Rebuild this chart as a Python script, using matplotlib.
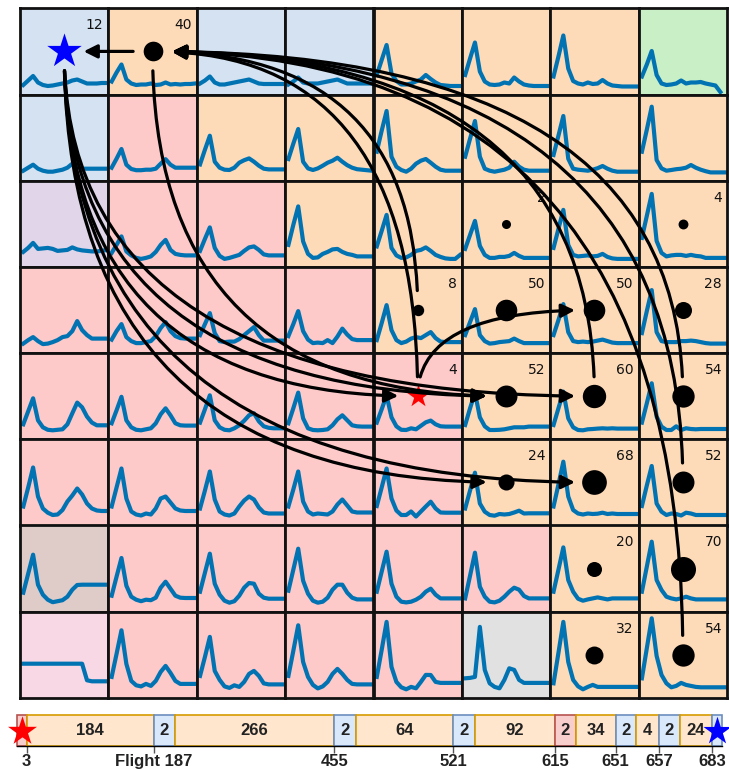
import numpy as np
import matplotlib
matplotlib.use("Agg")
import matplotlib.pyplot as plt

nan = np.nan

# cluster of every cell, top row first (B blue, O orange, R red, G green,
# P purple, N brown, K pink, Y gray)
cell_clusters = [
    "BOBBOOOG",
    "BROOOOOO",
    "PRROOOOO",
    "RRRROOOO",
    "RRRRROOO",
    "RRRRROOO",
    "NRRRRROO",
    "KRRRRYOO",
]

# mean profile of each cell (18 samples), one list per grid row
row0_traces = [
    [9.5, 14, 18.5, 12, 9.5, 8.5, 9, 10, 11, 12, 14, 15, 13, 11, 11, 11, 11.5, 11.5],
    [13, 22, 30, 15, 11, 9.5, 10, 10, 11, 9.5, 10, 12, 10, 10.5, 10, 10.5, 10.5, 11],
    [11, 14, 18, 12, 10, 10, 11, 12, 13, 14, 15, 13, 11, 10.5, 10.5, 10.5, 10.5, 10.5],
    [10, 13, 17, 12, 11, 11, 11, 12, 13, 14, 15, 13, 11, 11, 11, 11, 11, 11],
    [19.5, 34.5, 49.5, 21, 13.5, 10, 10, 11, 13, 15, 19.5, 15.5, 12, 9.5, 9, 8.5, 8.5, 8.5],
    [19.5, 36, 52, 23, 13, 10, 9.5, 10, 12, 11, 17, 13, 10, 9, 8.5, 8.5, 8.5, 8.5],
    [18, 38, 59, 26, 13.5, 11, 10, 12, 10.5, 11, 14.5, 11, 9, 8.5, 8, 8, 8, 8],
    [18, 30, 43.5, 19.5, 11, 9.5, 10, 11, 14, 11, 12, 12, 12.5, 11, 10, 9, 2.5, nan],
]
row1_traces = [
    [10, 13, 16, 12, 10, 9, 9, 10, 11, 13, 17, 14, 12, 12, 12, 12, 12, 12],
    [13, 22, 31.7, 16, 11.7, 10.5, 10.5, 11, 11, 12, 17, 21.5, 16, 13, 13, 13, 13, 13],
    [16.3, 31, 45, 19, 13, 11, 10.7, 13, 18, 20.5, 22.3, 19, 15, 12, 11.3, 11.3, 11.3, 11.3],
    [21.7, 37, 51.7, 19, 12.3, 10.7, 12.3, 15, 18, 20, 23, 19, 15.5, 13, 11.5, 11, 10.5, 10],
    [29, 50, 69.7, 24, 14, 10.7, 9, 12, 17, 20, 21.7, 18, 14, 11, 10, 10, 10, 10],
    [24, 42, 59.7, 24, 12, 10, 9, 10, 11, 13, 19, 14, 11, 10, 10, 10, 10, 10],
    [25.7, 45, 64.7, 22, 12, 11, 10.5, 10, 11, 12.5, 14.7, 12, 10, 9, 9, 9, 9, 9],
    [29, 51, 74, 20.7, 12.3, 10, 10.7, 11.5, 12, 13, 15.7, 13, 11, 9.5, 8.3, 8.3, 8.3, 8.3],
]
row2_traces = [
    [15, 19, 24, 18, 18.5, 19, 18, 16, 16.5, 17, 19.5, 17.5, 16.5, 16, 15.5, 15.5, 16, 17],
    [14, 22, 30.5, 15.5, 11.5, 9, 8, 9, 10.5, 15, 22, 27, 17, 13, 12, 11.5, 11.5, 11.5],
    [16, 28, 39.5, 19, 11, 8, 9, 10.5, 12, 16, 19.5, 20.5, 17, 12.5, 11.5, 11.5, 11.5, 11.5],
    [22, 42, 60.5, 25.5, 13, 9, 9.5, 13, 15, 17.5, 18, 15, 13, 12, 10.5, 10.5, 10.5, 10.5],
    [20.5, 36, 52, 19, 11.5, 9, 9.5, 12, 16, 17, 19.5, 16, 12, 10, 8.5, 8, 8, 12],
    [18, 32, 46, 21, 12, 9, 9, 10, 10, 11, 14, 11, 9, 9, 9, 9, 9, 9],
    [19, 38, 57, 22, 12, 10.5, 11, 11.5, 10.5, 11, 13, 10, 8.5, 8, 8, 8, 8, 8],
    [29, 51, 73, 26, 14, 10.5, 11.5, 12, 12, 11, 12, 11, 10.5, 9, 9, 9, 9, 9],
]
row3_traces = [
    [9.5, 13, 16, 12, 9, 9.5, 11, 13, 16, 17, 22, 32, 23, 18, 14.5, 14.5, 14.5, 14.5],
    [13.5, 22, 29, 16, 12, 10, 10, 11, 12, 17, 25, 31, 22, 17, 15, 14.5, 14.5, 14.5],
    [18, 29, 40, 20, 12, 11, 11.5, 11.5, 14, 18, 22, 26, 18, 12.5, 12.5, 12.5, 12.5, 12.5],
    [17, 29, 42, 22, 13.5, 10, 10.5, 10, 13, 10, 16.5, 24.5, 18.5, 14, 13, 13, 13, 13],
    [13, 30, 48, 23, 13, 10, 11.5, 14.5, 16, 15, 18, 21, 15, 11.5, 11, 11, 11, 11],
    [18, 31, 44, 18, 12, 9.5, 10, 11, 11.5, 12, 14.5, 12, 10, 10, 10, 10, 10, 10],
    [18, 33, 49, 21, 12, 11, 11.5, 11, 11.5, 12.5, 13.5, 12, 10.5, 10, 10, 10, 10, 10],
    [20, 42, 63, 21, 12, 11, 11, 11, 12, 12, 12.5, 12, 11, 10, 9.5, 9.5, 9.5, 9.5],
]
row4_traces = [
    [15, 28, 41, 19, 12, 9.5, 9, 9.5, 10, 15, 26, 36.7, 32, 22.7, 16.7, 14, 14, 14],
    [16, 29, 42.5, 19, 12, 9.5, 9, 10, 11, 16, 25, 31, 24, 16, 14, 13.7, 13.7, 13.7],
    [16.7, 30, 44, 19, 12, 9.5, 9, 11, 14, 18.5, 24, 26, 18, 13, 11.5, 11, 11, 11],
    [16, 31, 46.7, 21, 11, 9.3, 9, 9.3, 10, 14, 20, 24, 19, 14, 13, 12.7, 12.7, 12.7],
    [16.7, 30, 44, 22, 13, 9.5, 9.3, 11, 10, 13.5, 17, 18.7, 15, 13, 12.7, 12.7, 12.7, 12.7],
    [14.3, 31, 46.7, 22, 13, 9.3, 9.3, 9.5, 10, 11, 12, 12, 12, 12.7, 12.7, 12.7, 12.7, 12.7],
    [14.3, 31, 47.7, 21, 12, 9.3, 9, 10, 10.3, 10.7, 11, 10.7, 11, 10.7, 10.7, 10.7, 10.7, 10.7],
    [16.7, 36, 56, 22.7, 12.7, 9.3, 9.3, 13, 9.3, 11, 10.3, 10, 10.3, 10.3, 10.3, 10.3, 10.3, 10.3],
]
row5_traces = [
    [19, 38, 58, 29, 17, 12.8, 10.5, 11, 15.5, 24, 30, 37, 31, 22, 17, 15, 14.5, 14.5],
    [19, 38, 57, 27, 14, 11, 10, 12, 11, 17, 27, 29, 23, 17, 15, 14.5, 14.5, 14.5],
    [17, 35, 54, 26, 14, 11, 10, 12, 19, 25, 29, 26, 18, 13, 12, 12, 12, 12],
    [19, 36, 54, 24, 14, 11, 12, 11.5, 11, 14, 21, 26, 20, 14, 13, 13, 13, 13],
    [19.5, 38, 57, 27, 15, 10.5, 10.5, 14, 9, 14, 19, 23.8, 17, 13, 12.8, 12.8, 12.8, 12.8],
    [17, 35, 52.8, 22, 13.8, 10.5, 9.8, 11.5, 11, 11.5, 13, 14.8, 12, 12.2, 12.2, 12.2, 12.2, 12.2],
    [19, 41, 63.8, 29, 15.5, 12, 11, 12, 11.5, 11.8, 12.8, 11.5, 12, 11.5, 11.5, 11.5, 11.5, 11.5],
    [19.5, 40, 59.5, 22, 13.8, 10.5, 12, 11.5, 10, 12.8, 12, 10.5, 10.5, 10.5, 10.5, 10.5, 10.5, 10.5],
]
row6_traces = [
    [19, 38, 57, 27, 17, 12, 9.5, 10.5, 11.5, 15, 22, 26.7, 27, 27, 27, 27, 27, 27],
    [16, 35, 53.7, 26, 15, 12, 10.5, 12, 11.5, 14, 24, 30, 23, 16, 14, 13.7, 13.7, 13.7],
    [20, 39, 58, 28, 17, 11, 9, 10.5, 16, 24, 28.7, 28, 18, 14, 13, 13, 13, 13],
    [21, 42, 63, 31, 18, 11, 9, 10, 14, 22, 27, 27, 19, 14, 12.3, 12.3, 12.3, 12.3],
    [20, 40, 60, 28, 15, 10, 9.3, 10, 12, 15, 20, 23, 17, 13.3, 13.3, 13.3, 13.3, 13.3],
    [13.3, 36, 59, 25, 15, 10, 9.3, 11, 15, 20, 24, 22, 15.7, 13.3, 13.3, 13.3, 13.3, 13.3],
    [20, 42, 64.3, 31.7, 20, 13, 11, 12.3, 13.3, 14.3, 13.3, 12.3, 13.3, 13.3, 13.3, 13.3, 13.3, 13.3],
    [20, 45, 70, 31.7, 21.7, 15, 13.3, 12.3, 13.3, 15, 13.3, 12.3, 12.3, 12.3, 12.3, 12.3, 12.3, 12.3],
]
row7_traces = [
    [34.2, 34.2, 34.2, 34.2, 34.2, 34.2, 34.2, 34.2, 34.2, 34.2, 34.2, 34.2, 34.2, 17.6, 16.6, 16.6, 16.6, 16.6],
    [21, 44, 67.6, 34, 17, 12.6, 11.5, 14, 12, 17, 26, 32, 25, 17, 14, 14, 14, 14],
    [22, 41, 61, 27, 18, 11.5, 10, 12.6, 11, 16, 24, 27, 22, 14.5, 13.5, 13.5, 13.5, 13.5],
    [22, 47, 72.6, 36, 21, 13, 9.5, 11.5, 16, 24, 29, 24, 18, 14, 13.5, 13.5, 13.5, 13.5],
    [21, 48, 76, 31, 16, 10.6, 8.6, 11, 9.6, 16, 23, 22.9, 16, 15, 15, 15, 15, 15],
    [19.6, 20, 21, 71, 28, 14.6, 11, 9.6, 18, 29.6, 28, 18, 15, 15, 15, 15, 15, 15],
    [14.6, 45, 76, 36, 18, 11.6, 8.6, 11, 13, 11, 11, 11, 11, 11, 11, 11, 11, 11],
    [19.6, 49.6, 79.6, 42, 23, 14.6, 10.6, 12, 15, 13, 12, 11, 10.6, 10.6, 10.6, 10.6, 10.6, 10.6],
]
traces = [row0_traces, row1_traces, row2_traces, row3_traces,
          row4_traces, row5_traces, row6_traces, row7_traces]

# visit counts per (row, col)
cell_counts = {
    (0, 0): 12, (0, 1): 40, (2, 5): 2, (2, 7): 4,
    (3, 4): 8, (3, 5): 50, (3, 6): 50, (3, 7): 28,
    (4, 4): 4, (4, 5): 52, (4, 6): 60, (4, 7): 54,
    (5, 5): 24, (5, 6): 68, (5, 7): 52,
    (6, 6): 20, (6, 7): 70, (7, 6): 32, (7, 7): 54,
}
start_cell = (4, 4)
end_cell = (0, 0)

# transitions (source -> target)
transitions = [
    ((0, 1), (0, 0)),
    ((0, 0), (4, 4)), ((0, 0), (4, 5)), ((0, 0), (4, 6)),
    ((0, 0), (5, 5)), ((0, 0), (5, 6)),
    ((0, 1), (4, 5)),
    ((4, 4), (3, 6)),
    ((3, 4), (0, 1)), ((4, 4), (0, 1)), ((4, 6), (0, 1)),
    ((4, 7), (0, 1)), ((5, 7), (0, 1)), ((7, 7), (0, 1)),
]

# flight timeline segments
seg_counts = [3, 184, 2, 266, 2, 64, 2, 92, 2, 34, 2, 4, 2, 24, 1]
seg_kinds = ["R", "O", "B", "O", "B", "O", "B", "O", "R", "O", "B", "O", "B", "O", "B"]
tick_values = [3, 187, 455, 521, 615, 651, 657, 683]
tick_labels = ["3", "Flight 187", "455", "521", "615", "651", "657", "683"]

# ---- styling ----
cluster_colors = {
    "B": "#d4e2f1", "O": "#fddbb9", "R": "#fdc9c9", "G": "#c9efc6",
    "P": "#e0d5e9", "N": "#dfccc9", "K": "#f8d8e4", "Y": "#e1e1e1",
}
seg_fill = {"O": "#ffe6cc", "B": "#dae8fc", "R": "#f8cecc"}
seg_edge = {"O": "#d79b00", "B": "#6c8ebf", "R": "#b85450"}
line_color = "#0173b2"

W, H = 729, 769
GX0, GX1, GY0, GY1 = 20.0, 727.0, 8.3, 697.9
cw = (GX1 - GX0) / 8
ch = (GY1 - GY0) / 8

fig = plt.figure(figsize=(W / 100, H / 100), dpi=100)

# grid of small profile plots
for r in range(8):
    for c in range(8):
        ax = fig.add_axes([(GX0 + c * cw) / W, 1 - (GY0 + (r + 1) * ch) / H, cw / W, ch / H])
        ax.set_facecolor(cluster_colors[cell_clusters[r][c]])
        vals = traces[r][c]
        ax.plot(np.arange(len(vals)), vals, color=line_color, lw=3.0)
        ax.set_xlim(-0.67, 17.36)
        ax.set_ylim(0, ch)
        ax.set_xticks([])
        ax.set_yticks([])
        for sp in ax.spines.values():
            sp.set_linewidth(2.0)
            sp.set_color("#111111")

# overlay for counts, stars and transitions
ov = fig.add_axes([GX0 / W, 1 - GY1 / H, (GX1 - GX0) / W, (GY1 - GY0) / H], zorder=5)
ov.set_xlim(0, 8)
ov.set_ylim(8, 0)
ov.axis("off")
ov.patch.set_alpha(0)

for (r, c), n in cell_counts.items():
    ov.text(c + 1 - 5 / cw, r + 17 / ch, str(n), ha="right", va="center",
            fontsize=10, color="#111111", zorder=2)
    if (r, c) in (start_cell, end_cell):
        continue
    ov.scatter(c + 0.5, r + 0.5, s=34 + 4.15 * n, color="black", zorder=3, linewidths=0)

ov.scatter(end_cell[1] + 0.5, end_cell[0] + 0.5, marker="*", s=680, color="blue", zorder=4, linewidths=0)
ov.scatter(start_cell[1] + 0.5, start_cell[0] + 0.5, marker="*", s=300, color="red", zorder=4, linewidths=0)

for (sr, sc), (tr, tc) in transitions:
    cs = "arc3,rad=0" if sr == tr else "angle3,angleA=90,angleB=0"
    ov.annotate("", xy=(tc + 0.5, tr + 0.5), xytext=(sc + 0.5, sr + 0.5),
                arrowprops=dict(arrowstyle="-|>", connectionstyle=cs, color="black",
                                lw=2.3, shrinkA=14, shrinkB=14, mutation_scale=20),
                zorder=5)

# timeline bar (piecewise scale so small segments stay readable)
knots_n = np.concatenate([[0], np.cumsum(seg_counts)])
knots_px = [17.3, 26.7, 154, 175, 334.3, 355.7, 453, 475, 555, 575.7,
            615.7, 636.3, 659, 679.7, 712.3, 721.5]

def fwd(x):
    return np.interp(x, knots_n, knots_px)

def inv(p):
    return np.interp(p, knots_px, knots_n)

bx = fig.add_axes([17.3 / W, 1 - 746 / H, (721.5 - 17.3) / W, 31 / H])
bx.set_xscale("function", functions=(fwd, inv))
bx.set_xlim(0, knots_n[-1])
bx.set_ylim(0, 1)
lefts = knots_n[:-1]
bx.bar(lefts, np.ones(len(seg_counts)), width=seg_counts, align="edge",
       color=[seg_fill[k] for k in seg_kinds], edgecolor=[seg_edge[k] for k in seg_kinds],
       linewidth=1.2, clip_on=False)
for i, n in enumerate(seg_counts):
    if i == 0 or i == len(seg_counts) - 1:
        continue
    bx.text(lefts[i] + n / 2, 0.5, str(n), ha="center", va="center",
            fontsize=12, fontweight="bold", family="Liberation Sans", color="#222222")
bx.scatter([lefts[0] + seg_counts[0] / 2], [0.5], marker="*", s=480, color="red",
           clip_on=False, zorder=5, linewidths=0)
bx.scatter([lefts[-1] + seg_counts[-1] / 2], [0.5], marker="*", s=450, color="blue",
           clip_on=False, zorder=5, linewidths=0)
for side in ("top", "left", "right"):
    bx.spines[side].set_visible(False)
bx.spines["bottom"].set_color("black")
bx.spines["bottom"].set_linewidth(1.0)
bx.set_yticks([])
bx.set_xticks(tick_values)
bx.set_xticklabels(tick_labels, fontsize=12, fontweight="bold", family="Liberation Sans",
                   color="#222222")
bx.xaxis.set_minor_locator(plt.NullLocator())
bx.tick_params(axis="x", length=5, width=1, color="#555555", pad=1)

fig.savefig("out.png", dpi=100)
